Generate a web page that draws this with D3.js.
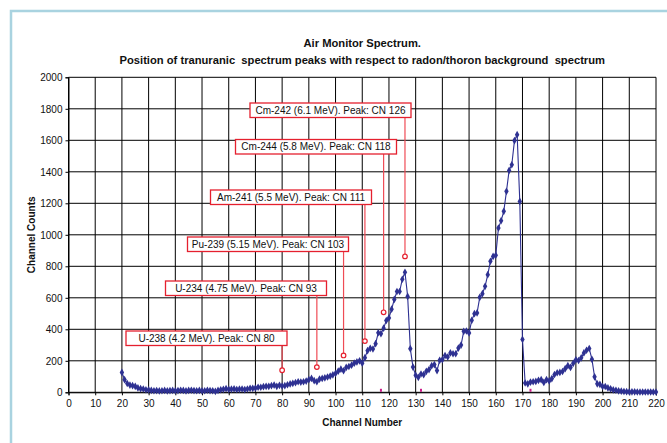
<!DOCTYPE html>
<html><head><meta charset="utf-8">
<script src="https://cdn.jsdelivr.net/npm/d3@7"></script>
<style>
body{margin:0;background:#fff}
svg{display:block}
text{font-family:Arial,"Liberation Sans",sans-serif;fill:#111}
</style>
</head><body>
<svg id="c" width="667" height="443"></svg>
<script>
// ---------------- data ----------------
const startChannel = 20;
const counts = [
 126,80,56,46,42,38,28,23,21,16,          // 20-29
 15,12,10,11,9,10,12,9,11,12,             // 30-39
 10,11,13,12,9,12,13,11,10,12,            // 40-49
 9,10,13,11,10,6,12,16,19,23,             // 50-59
 19,20,22,18,20,21,17,21,25,25,           // 60-69
 27,32,32,36,38,38,42,46,38,44,           // 70-79
 40,42,48,53,57,61,67,65,67,71,           // 80-89
 80,88,74,67,84,88,92,97,103,111,         // 90-99
 120,134,147,137,158,164,172,185,193,200, // 100-109
 185,220,265,279,275,309,378,372,407,456, // 110-119
 472,528,590,640,640,718,762,609,277,160, // 120-129
 108,95,116,112,133,144,169,176,138,203,  // 130-139
 207,233,224,250,245,245,281,300,387,389, // 140-149
 377,457,499,504,603,626,673,747,832,863, // 150-159
 870,1043,1090,1149,1276,1409,1445,1598,1636,1212, // 160-169
 336,59,54,65,67,69,76,80,63,80,          // 170-179
 72,87,113,124,126,132,150,169,158,184,   // 180-189
 206,202,219,250,267,278,210,98,54,50,    // 190-199
 37,37,28,22,15,13,9,7,5,4,               // 200-209
 3,3,3,2,2,2,2,2,2,2,2                    // 210-220
];
const channels = counts.map((_, i) => startChannel + i);

const peakLabels = [
 "U-238 (4.2 MeV). Peak: CN 80",
 "U-234 (4.75 MeV). Peak: CN 93",
 "Pu-239 (5.15 MeV). Peak: CN 103",
 "Am-241 (5.5 MeV). Peak: CN 111",
 "Cm-244 (5.8 MeV). Peak: CN 118",
 "Cm-242 (6.1 MeV). Peak: CN 126"
];
const peakChannels = [80, 93, 103, 111, 118, 126];
const peakMarkerCounts = [140, 160, 234, 325, 508, 863];
const zeroMarkChannels = [117, 132, 173];

const xTicks = d3.range(0, 221, 10);
const yTicks = d3.range(0, 2001, 200);

const titleLines = [
 "Air Monitor Spectrum.",
 "Position of tranuranic  spectrum peaks with respect to radon/thoron background  spectrum"
];
const xTitle = "Channel Number";
const yTitle = "Channel Counts";

// ---------------- layout ----------------
const plot = {left: 68.5, right: 656, top: 77.3, bottom: 392.3};
// label box top-left corners (pixels)
const boxPos = [[126,331],[165.5,281],[187.5,237],[210.5,190],[235.5,139.5],[250,103]];
const boxW = 161, boxH = 14.5;

const svg = d3.select("#c");

// frame
svg.append("rect").attr("x", 11).attr("y", 11).attr("width", 700).attr("height", 500)
  .attr("fill", "#fff").attr("stroke", "#a9d3e0").attr("stroke-width", 2.5);

const x = d3.scaleLinear().domain([0, 220]).range([plot.left, plot.right]);
const y = d3.scaleLinear().domain([0, 2000]).range([plot.bottom, plot.top]);

// grid
const g = svg.append("g");
g.selectAll(".hg").data(yTicks).join("line")
  .attr("x1", plot.left).attr("x2", plot.right)
  .attr("y1", d => y(d)).attr("y2", d => y(d))
  .attr("stroke", "#000").attr("stroke-width", 1);
g.selectAll(".vg").data(xTicks).join("line")
  .attr("y1", plot.top).attr("y2", plot.bottom)
  .attr("x1", d => x(d)).attr("x2", d => x(d))
  .attr("stroke", "#000").attr("stroke-width", 1);

// axes
const ax = svg.append("g").attr("transform", `translate(0,${plot.bottom})`)
  .call(d3.axisBottom(x).tickValues(xTicks).tickSize(3).tickPadding(4.5).tickFormat(d3.format("d")));
const ay = svg.append("g").attr("transform", `translate(${plot.left},0)`)
  .call(d3.axisLeft(y).tickValues(yTicks).tickSize(3).tickPadding(3).tickFormat(d3.format("d")));
[ax, ay].forEach(a => {
  a.selectAll("text").attr("font-size", 10).attr("font-family", "Arial, 'Liberation Sans', sans-serif").attr("fill", "#111");
  a.selectAll("line,path").attr("stroke", "#000");
});

// zero marks (magenta)
svg.selectAll(".zm").data(zeroMarkChannels).join("rect")
  .attr("x", d => x(d) - 1).attr("y", y(0) - 3.5).attr("width", 2).attr("height", 3)
  .attr("fill", "#cc1f8a");

// annotation lines & boxes
const ann = svg.append("g");
peakLabels.forEach((lab, i) => {
  const [bx, by] = boxPos[i];
  const cx = x(peakChannels[i]);
  const cy = y(peakMarkerCounts[i]);
  ann.append("line").attr("x1", cx).attr("x2", cx).attr("y1", by + boxH).attr("y2", cy)
    .attr("stroke", "#ef4b55").attr("stroke-width", 1.2);
  ann.append("rect").attr("x", bx).attr("y", by).attr("width", boxW).attr("height", boxH)
    .attr("fill", "#fff").attr("stroke", "#e5202e").attr("stroke-width", 1.3);
  ann.append("text").attr("x", bx + boxW / 2).attr("y", by + boxH / 2).attr("dy", "0.35em")
    .attr("text-anchor", "middle").attr("font-size", 10).attr("fill", "#222").text(lab);
});

// series
const pts = channels.map((c, i) => [c, counts[i]]);
svg.append("path").datum(pts)
  .attr("fill", "none").attr("stroke", "#2e3192").attr("stroke-width", 1.1)
  .attr("d", d3.line().x(d => x(d[0])).y(d => y(d[1])));
svg.selectAll(".pt").data(pts).join("path")
  .attr("transform", d => `translate(${x(d[0])},${y(d[1])})`)
  .attr("d", d3.symbol(d3.symbolDiamond, 17)())
  .attr("fill", "#2e3192");

// peak marker circles
svg.selectAll(".pk").data(peakChannels).join("circle")
  .attr("cx", d => x(d)).attr("cy", (d, i) => y(peakMarkerCounts[i])).attr("r", 2.3)
  .attr("fill", "#fff").attr("stroke", "#e5202e").attr("stroke-width", 1.2);

// titles
const midX = (plot.left + plot.right) / 2;
svg.append("text").attr("x", midX).attr("y", 47).attr("text-anchor", "middle")
  .attr("font-size", 11.2).attr("font-weight", "bold").text(titleLines[0]);
svg.append("text").attr("x", midX).attr("y", 64).attr("text-anchor", "middle")
  .attr("font-size", 11.2).attr("font-weight", "bold").style("white-space", "pre").text(titleLines[1]);
svg.append("text").attr("x", midX).attr("y", 426).attr("text-anchor", "middle")
  .attr("font-size", 10).attr("font-weight", "bold").text(xTitle);
svg.append("text").attr("transform", `translate(35,${(plot.top + plot.bottom) / 2}) rotate(-90)`)
  .attr("text-anchor", "middle").attr("font-size", 10).attr("font-weight", "bold").text(yTitle);
</script>
</body></html>
